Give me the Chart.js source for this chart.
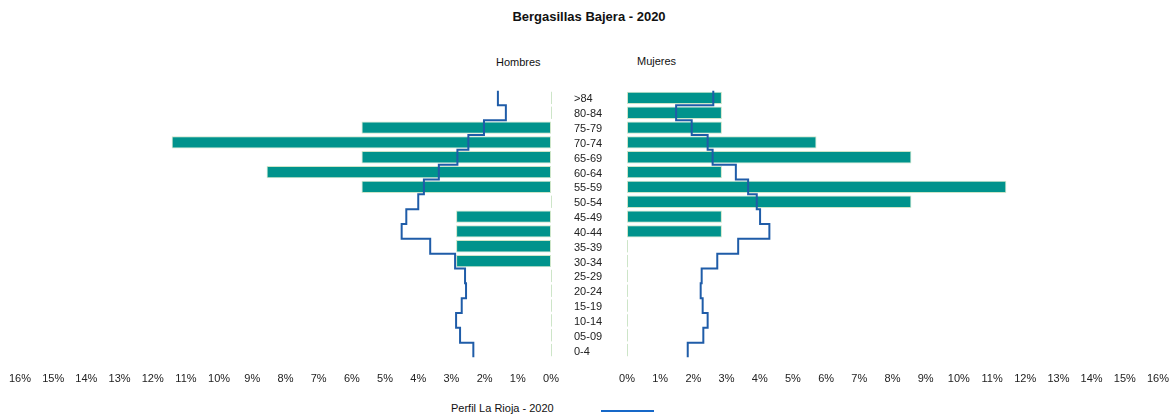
<!DOCTYPE html>
<html>
<head>
<meta charset="utf-8">
<script src="https://cdn.jsdelivr.net/npm/chart.js@4"></script>
<style>
  html, body { margin: 0; padding: 0; background: #fff; }
  body { width: 1174px; height: 418px; position: relative; overflow: hidden; font-family: "Liberation Sans", Arial, sans-serif; color: #111; }
  canvas { position: absolute; left: 0; top: 0; }
  .txt { position: absolute; white-space: nowrap; line-height: 1; }
  #title { left: 0; width: 1178px; text-align: center; top: 10px; font-size: 13px; font-weight: bold; }
  #hom { left: 496px; top: 57px; font-size: 11px; }
  #muj { left: 637px; top: 56px; font-size: 11px; }
  #legend { left: 451px; top: 403px; font-size: 11px; }
  #legline { position: absolute; left: 601px; top: 410px; width: 53px; height: 2px; background: #1668c8; }
</style>
</head>
<body>
<div id="title" class="txt">Bergasillas Bajera - 2020</div>
<div id="hom" class="txt">Hombres</div>
<div id="muj" class="txt">Mujeres</div>
<div id="legend" class="txt">Perfil La Rioja - 2020</div>
<div id="legline"></div>
<canvas id="left" width="1174" height="418"></canvas>
<canvas id="right" width="1174" height="418"></canvas>
<script>
// Age groups, youngest first
const categories = ['0-4','05-09','10-14','15-19','20-24','25-29','30-34','35-39','40-44','45-49','50-54','55-59','60-64','65-69','70-74','75-79','80-84','>84'];
// Bergasillas Bajera 2020, % of total population
const hombres = [0,0,0,0,0,0,2.86,2.86,2.86,2.86,0,5.71,8.57,5.71,11.43,5.71,0,0];
const mujeres = [0,0,0,0,0,0,0,0,2.86,2.86,8.57,11.43,2.86,8.57,5.71,2.86,2.86,2.86];
// La Rioja 2020 profile, % of total population
const riojaHombres = [2.34,2.74,2.86,2.69,2.56,2.59,2.89,3.64,4.50,4.36,4.00,3.83,3.38,2.82,2.49,2.02,1.36,1.60];
const riojaMujeres = [1.83,2.30,2.43,2.28,2.22,2.25,2.72,3.35,4.29,4.01,3.91,3.65,3.28,2.58,2.43,1.95,1.48,2.60];
const xTicks = [0,1,2,3,4,5,6,7,8,9,10,11,12,13,14,15,16];
const legendLabel = 'Perfil La Rioja - 2020';

const BAR = '#00938c';
const BAR_BORDER = '#cde5c8';
const LINE = '#1f5ca8';
const FONT = '"Liberation Sans", Arial, sans-serif';

function stepPoints(vals) {
  const pts = [];
  vals.forEach((v, i) => { pts.push({x: v, y: i - 0.5}); pts.push({x: v, y: i + 0.5}); });
  return pts;
}

const zeroLines = {
  id: 'zeroLines',
  afterDatasetsDraw(chart) {
    const meta = chart.getDatasetMeta(0);
    const ctx = chart.ctx;
    ctx.save();
    ctx.strokeStyle = BAR_BORDER;
    ctx.lineWidth = 1;
    meta.data.forEach(el => {
      const p = el.getProps(['x','y','base','height'], true);
      if (Math.abs(p.x - p.base) < 0.5) {
        const xx = Math.round(p.base) + 0.5;
        ctx.beginPath();
        ctx.moveTo(xx, p.y - p.height / 2);
        ctx.lineTo(xx, p.y + p.height / 2);
        ctx.stroke();
      }
    });
    ctx.restore();
  }
};

function makeChart(id, values, rioja, isLeft) {
  const pad = isLeft ? {left: 20, right: 623, top: 90.5, bottom: 20.5}
                     : {left: 574, right: 16, top: 90.5, bottom: 20.5};
  return new Chart(document.getElementById(id), {
    data: {
      labels: categories,
      datasets: [
        {
          type: 'bar',
          indexAxis: 'y',
          order: 1,
          label: isLeft ? 'Hombres' : 'Mujeres',
          data: values,
          backgroundColor: BAR,
          borderColor: BAR_BORDER,
          borderWidth: 1,
          borderSkipped: false,
          barPercentage: 0.83,
          categoryPercentage: 1,
          xAxisID: 'x',
          yAxisID: 'y'
        },
        {
          type: 'line',
          order: 0,
          label: legendLabel,
          data: stepPoints(rioja),
          borderColor: LINE,
          borderWidth: 2,
          pointRadius: 0,
          fill: false,
          tension: 0,
          xAxisID: 'x',
          yAxisID: 'y2'
        }
      ]
    },
    options: {
      responsive: false,
      devicePixelRatio: 1,
      animation: false,
      events: [],
      layout: { padding: pad },
      plugins: { legend: { display: false }, tooltip: { enabled: false }, title: { display: false } },
      scales: {
        x: {
          type: 'linear',
          reverse: isLeft,
          min: 0, max: 16,
          afterBuildTicks: (a) => { a.ticks = xTicks.map(v => ({value: v})); },
          ticks: { callback: v => v + '%', font: { family: FONT, size: 11 }, color: '#222', padding: 7, maxRotation: 0, autoSkip: false },
          grid: { display: false },
          border: { display: false },
          afterFit: (a) => { a.height = 40; a.paddingLeft = 0; a.paddingRight = 0; }
        },
        y: {
          type: 'category',
          reverse: true,
          offset: true,
          display: !isLeft,
          position: 'left',
          grid: { display: false },
          border: { display: false },
          ticks: { crossAlign: 'far', padding: 0, labelOffset: 1.5, font: { family: FONT, size: 11 }, color: '#222', autoSkip: false },
          afterFit: (a) => { a.width = isLeft ? 0 : 53; }
        },
        y2: {
          type: 'linear',
          display: false,
          min: -0.5, max: categories.length - 0.5
        }
      }
    },
    plugins: [zeroLines]
  });
}

makeChart('left', hombres, riojaHombres, true);
makeChart('right', mujeres, riojaMujeres, false);
</script>
</body>
</html>
